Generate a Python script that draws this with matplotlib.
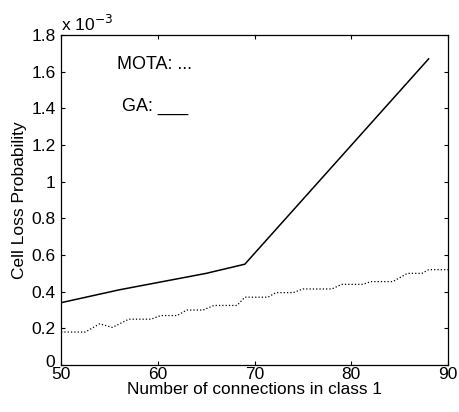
import numpy as np
import matplotlib
matplotlib.use("Agg")
from matplotlib import pyplot as plt
from matplotlib.ticker import FuncFormatter
from matplotlib.transforms import ScaledTranslation

plt.rcParams['font.family'] = ['Liberation Sans', 'DejaVu Sans']

# data (values in units of 1e-3)
ga_x = [50, 53, 56, 59, 62, 65, 69, 88]
ga_y = [0.34, 0.375, 0.41, 0.44, 0.47, 0.50, 0.55, 1.67]

mota_x = [50, 52.5, 54, 55.3, 57, 59.3, 60.3, 62, 63, 64.7, 65.8, 68.2, 69, 71.4,
          72.2, 74, 75, 78, 79, 81.2, 82, 84.3, 85.8, 87.3, 88, 90]
mota_y = [0.18, 0.18, 0.225, 0.205, 0.25, 0.25, 0.27, 0.27, 0.30, 0.30, 0.325, 0.325,
          0.37, 0.37, 0.395, 0.395, 0.415, 0.415, 0.44, 0.44, 0.455, 0.455, 0.50,
          0.50, 0.52, 0.52]

xticks = [50, 60, 70, 80, 90]
yticks = [0, 0.2, 0.4, 0.6, 0.8, 1, 1.2, 1.4, 1.6, 1.8]

fig = plt.figure(figsize=(4.59, 4.12), dpi=100)
ax = fig.add_axes([0.133, 0.114, 0.843, 0.801])

ax.plot(ga_x, ga_y, color='black', linewidth=1.1, linestyle='-')
ax.plot(mota_x, mota_y, color='black', linewidth=0.9, linestyle=':')

ax.set_xlim(50, 90)
ax.set_ylim(0, 1.8)
ax.set_xticks(xticks)
ax.set_yticks(yticks)
ax.yaxis.set_major_formatter(FuncFormatter(lambda v, p: '%g' % v))
ax.tick_params(direction='in', length=3, width=0.8, top=True, right=True,
               labelsize=12.5)
ax.tick_params(axis='x', pad=1.5)
ax.tick_params(axis='y', pad=4)
for s in ax.spines.values():
    s.set_linewidth(0.9)

# lift the "0" label a little so it clears the "50" below it
lab0 = ax.yaxis.get_major_ticks()[0].label1
lab0.set_transform(lab0.get_transform() + ScaledTranslation(0, 3 / 72, fig.dpi_scale_trans))

ax.set_xlabel('Number of connections in class 1', fontsize=12.4, labelpad=0)
ax.set_ylabel('Cell Loss Probability', fontsize=12.5, labelpad=3)

ax.text(0.0, 1.003, r'x 10$^{-3}$', transform=ax.transAxes, ha='left', va='bottom',
        fontsize=12.5)

ax.text(55.8, 1.64, 'MOTA: ...', fontsize=13, ha='left', va='center')
ax.text(56.3, 1.41, 'GA: ___', fontsize=13, ha='left', va='center')

plt.savefig('out.png', dpi=100)
